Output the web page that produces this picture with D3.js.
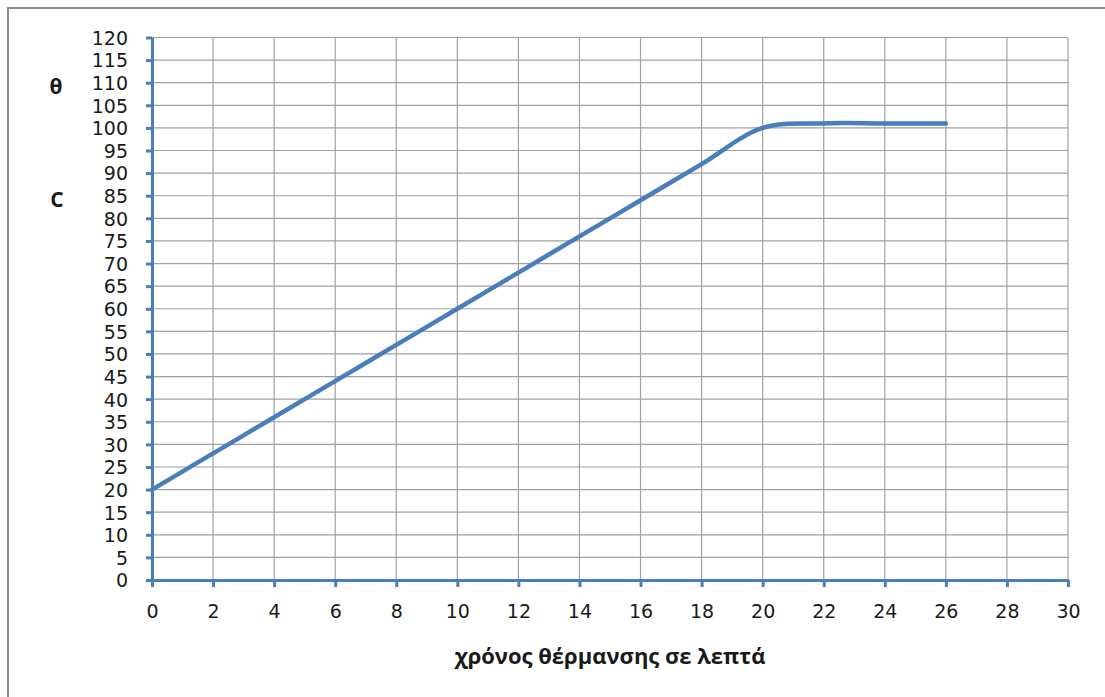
<!DOCTYPE html>
<html><head><meta charset="utf-8">
<script src="https://cdn.jsdelivr.net/npm/d3@7"></script>
<style>
html,body{margin:0;padding:0;background:#fff;overflow:hidden}
text{font-family:"Open Sans","Liberation Sans",sans-serif}
</style></head>
<body>
<svg id="c" width="1105" height="697"></svg>
<script>
const times = [0, 2, 4, 6, 8, 10, 12, 14, 16, 18, 20, 22, 24, 26];
const temps = [20, 28, 36, 44, 52, 60, 68, 76, 84, 92, 100, 101, 101, 101];
const xTicks = d3.range(0, 31, 2);
const yTicks = d3.range(0, 121, 5);
const xTitle = "χρόνος θέρμανσης σε λεπτά";
const yTitleTop = "θ";
const yTitleBottom = "C";

const svg = d3.select("#c");
svg.append("rect").attr("x", 8).attr("y", 8).attr("width", 1200).attr("height", 800)
  .attr("fill", "#fff").attr("stroke", "#8c8c8c").attr("stroke-width", 2);

const x = d3.scaleLinear().domain([0, 30]).range([152, 1068]);
const y = d3.scaleLinear().domain([0, 120]).range([580, 37.5]);

const grid = svg.append("g").attr("stroke", "#a0a0a0").attr("stroke-width", 1.2);
grid.selectAll(".h").data(yTicks.filter(d => d > 0)).join("line")
  .attr("x1", x(0)).attr("x2", x(30)).attr("y1", d => y(d)).attr("y2", d => y(d));
grid.selectAll(".v").data(xTicks.filter(d => d > 0)).join("line")
  .attr("y1", y(0)).attr("y2", y(120)).attr("x1", d => x(d)).attr("x2", d => x(d));

const blue = "#4a7ebb";
const tickFont = '"DejaVu Sans","Liberation Sans",sans-serif';
const xAxis = svg.append("g").attr("transform", `translate(0,${y(0)})`)
  .call(d3.axisBottom(x).tickValues(xTicks).tickSize(7).tickPadding(18).tickSizeOuter(0));
const yAxis = svg.append("g").attr("transform", `translate(${x(0)},0)`)
  .call(d3.axisLeft(y).tickValues(yTicks).tickSize(6).tickPadding(18).tickSizeOuter(0));
[xAxis, yAxis].forEach(a => {
  a.select(".domain").attr("stroke", blue).attr("stroke-width", 3);
  a.selectAll(".tick line").attr("stroke", blue).attr("stroke-width", 3);
  a.selectAll(".tick text").attr("fill", "#1a1a1a").style("font-size", "19px")
   .style("font-family", tickFont);
});
yAxis.selectAll(".tick text").attr("dy", "0.36em");

const line = d3.line().x((d, i) => x(times[i])).y(d => y(d)).curve(d3.curveCatmullRom.alpha(0.5));
svg.append("path").datum(temps).attr("d", line).attr("fill", "none")
  .attr("stroke", blue).attr("stroke-width", 4.5).attr("stroke-linecap", "round");

svg.append("text").attr("x", 610).attr("y", 664).attr("text-anchor", "middle")
  .style("font-size", "22px").style("font-weight", "bold").attr("fill", "#1a1a1a").text(xTitle);
svg.append("text").attr("x", 56).attr("y", 94).attr("text-anchor", "middle")
  .style("font-size", "21px").style("font-weight", "bold").attr("fill", "#1a1a1a").text(yTitleTop);
svg.append("text").attr("x", 57).attr("y", 207).attr("text-anchor", "middle")
  .style("font-size", "21px").style("font-weight", "bold").attr("fill", "#1a1a1a").text(yTitleBottom);
</script>
</body></html>
